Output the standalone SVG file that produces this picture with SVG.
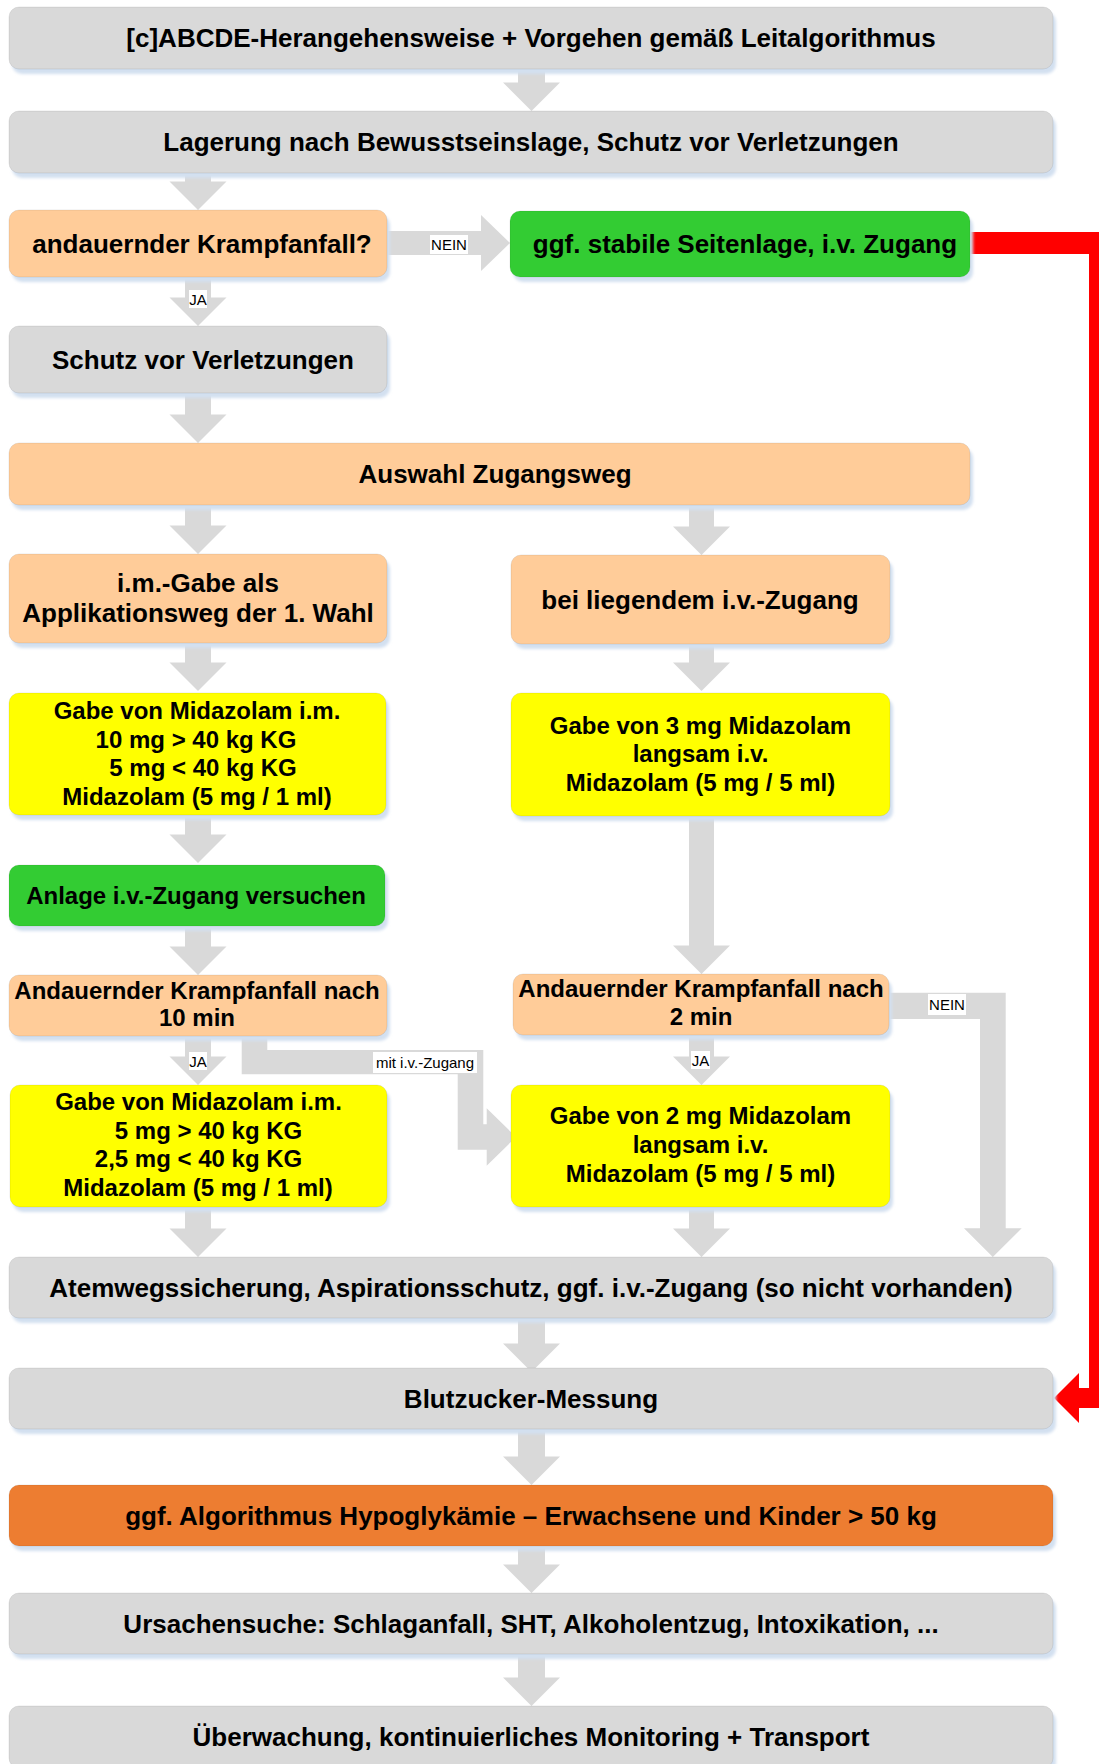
<svg xmlns="http://www.w3.org/2000/svg" width="1099" height="1764" viewBox="0 0 1099 1764">
  <style>
    .g { fill: #D9D9D9; }
    .p { fill: #FFCC99; }
    .gr { fill: #33CC33; }
    .y { fill: #FFFF00; }
    .o { fill: #ED7D31; }
    .box { stroke: #000; stroke-opacity: 0.08; stroke-width: 1; }
    .sh { fill: #D3E0F0; filter: url(#soft); }
    .arr { fill: #D9D9D9; }
    .red { fill: #FF0000; }
    text { font-family: "Liberation Sans", Arial, sans-serif; fill: #000; text-anchor: middle; }
    .t { font-weight: bold; font-size: 26px; }
    .s { font-weight: bold; font-size: 24px; }
    .lbl { font-size: 15px; }
    .lblbg { fill: #FFFFFF; }
  </style>
  <defs>
    <filter id="soft" x="-5%" y="-20%" width="110%" height="140%">
      <feGaussianBlur stdDeviation="1.5"/>
    </filter>
    <!-- shared down-pointing block arrow head, tip at (0,0) -->
    <polygon id="head" points="-28.5,-28.5 28.5,-28.5 0,0"/>
  </defs>

  <rect width="1099" height="1764" fill="#FFFFFF"/>

  <!-- block arrows between nodes -->
  <g id="connectors">
    <!-- centre column -->
    <rect class="arr" x="518" y="60" width="27" height="24"/>
    <use href="#head" class="arr" x="531.5" y="111"/>
    <rect class="arr" x="518" y="1310" width="27" height="40"/>
    <use href="#head" class="arr" x="531.5" y="1372"/>
    <rect class="arr" x="518" y="1420" width="27" height="40"/>
    <use href="#head" class="arr" x="531.5" y="1485"/>
    <rect class="arr" x="518" y="1540" width="27" height="30"/>
    <use href="#head" class="arr" x="531.5" y="1593"/>
    <rect class="arr" x="518" y="1650" width="27" height="30"/>
    <use href="#head" class="arr" x="531.5" y="1706"/>

    <!-- left column -->
    <rect class="arr" x="185" y="165" width="26" height="20"/>
    <use href="#head" class="arr" x="198" y="210"/>
    <rect class="arr" x="185" y="270" width="26" height="30"/>
    <use href="#head" class="arr" x="198" y="326"/>
    <rect class="arr" x="185" y="385" width="26" height="33"/>
    <use href="#head" class="arr" x="198" y="443"/>
    <rect class="arr" x="185" y="500" width="26" height="28"/>
    <use href="#head" class="arr" x="198" y="554"/>
    <rect class="arr" x="185" y="640" width="26" height="24"/>
    <use href="#head" class="arr" x="198" y="691"/>
    <rect class="arr" x="185" y="810" width="26" height="26"/>
    <use href="#head" class="arr" x="198" y="863"/>
    <rect class="arr" x="185" y="920" width="26" height="30"/>
    <use href="#head" class="arr" x="198" y="975"/>
    <rect class="arr" x="185" y="1030" width="26" height="30"/>
    <use href="#head" class="arr" x="198" y="1085"/>
    <rect class="arr" x="185" y="1200" width="26" height="32"/>
    <use href="#head" class="arr" x="198" y="1257"/>

    <!-- right column -->
    <rect class="arr" x="689" y="500" width="25" height="28"/>
    <use href="#head" class="arr" x="701.5" y="555"/>
    <rect class="arr" x="689" y="640" width="25" height="24"/>
    <use href="#head" class="arr" x="701.5" y="691"/>
    <rect class="arr" x="689" y="810" width="25" height="140"/>
    <use href="#head" class="arr" x="701.5" y="974"/>
    <rect class="arr" x="689" y="1030" width="25" height="30"/>
    <use href="#head" class="arr" x="701.5" y="1085"/>
    <rect class="arr" x="689" y="1200" width="25" height="32"/>
    <use href="#head" class="arr" x="701.5" y="1257"/>

    <!-- NEIN: to stable side position -->
    <polygon class="arr" points="380,231 481,231 481,215 510,243 481,271 481,255 380,255"/>
    <!-- mit i.v.-Zugang: left branch over to the i.v. dose -->
    <polygon class="arr" points="241.7,1030 267.3,1030 267.3,1050 483.3,1050 483.3,1124.3 486.7,1124.3 486.7,1108.3 516,1137 486.7,1165.7 486.7,1149.7 457.7,1149.7 457.7,1074.3 241.7,1074.3"/>
    <!-- NEIN: seizure ended after 2 min -->
    <polygon class="arr" points="880,992.7 1005.7,992.7 1005.7,1228.3 1021.7,1228.3 992.8,1257 964,1228.3 980,1228.3 980,1019 880,1019"/>

    <!-- red bypass to blood sugar measurement -->
    <polygon class="red" points="970,232 1112,232 1112,1408 1079,1408 1079,1423 1054,1398 1079,1373 1079,1388 1089,1388 1089,254 970,254"/>

    <!-- connector labels -->
    <rect class="lblbg" x="430" y="235" width="38" height="19"/>
    <text class="lbl" x="449" y="250">NEIN</text>
    <rect class="lblbg" x="189" y="290" width="18" height="18"/>
    <text class="lbl" x="198" y="304.5">JA</text>
    <rect class="lblbg" x="189" y="1052" width="18" height="18"/>
    <text class="lbl" x="198" y="1066.5">JA</text>
    <rect class="lblbg" x="373" y="1052" width="104" height="21"/>
    <text class="lbl" x="425" y="1068">mit i.v.-Zugang</text>
    <rect class="lblbg" x="691" y="1051" width="19" height="18"/>
    <text class="lbl" x="700.5" y="1065.5">JA</text>
    <rect class="lblbg" x="928" y="994" width="38" height="21"/>
    <text class="lbl" x="947" y="1009.5">NEIN</text>
  </g>

  <g id="n-abcde">
    <rect class="sh" x="12" y="12" width="1044" height="62" rx="10"/>
    <rect class="box g" x="9" y="7" width="1044" height="62" rx="10"/>
    <text class="t" x="531" y="47">[c]ABCDE-Herangehensweise + Vorgehen gemäß Leitalgorithmus</text>
  </g>

  <g id="n-lagerung">
    <rect class="sh" x="12" y="116" width="1044" height="62" rx="10"/>
    <rect class="box g" x="9" y="111" width="1044" height="62" rx="10"/>
    <text class="t" x="531" y="151">Lagerung nach Bewusstseinslage, Schutz vor Verletzungen</text>
  </g>

  <g id="n-krampf">
    <rect class="sh" x="12" y="215" width="378" height="67" rx="10"/>
    <rect class="box p" x="9" y="210" width="378" height="67" rx="10"/>
    <text class="t" x="202" y="252.5">andauernder Krampfanfall?</text>
  </g>

  <g id="n-seitenlage">
    <rect class="sh" x="513" y="216" width="460" height="66" rx="10"/>
    <rect class="box gr" x="510" y="211" width="460" height="66" rx="10"/>
    <text class="t" x="745" y="253">ggf. stabile Seitenlage, i.v. Zugang</text>
  </g>

  <g id="n-schutz">
    <rect class="sh" x="12" y="331" width="378" height="67" rx="10"/>
    <rect class="box g" x="9" y="326" width="378" height="67" rx="10"/>
    <text class="t" x="203" y="368.5">Schutz vor Verletzungen</text>
  </g>

  <g id="n-auswahl">
    <rect class="sh" x="12" y="448" width="961" height="62" rx="10"/>
    <rect class="box p" x="9" y="443" width="961" height="62" rx="10"/>
    <text class="t" x="495" y="483">Auswahl Zugangsweg</text>
  </g>

  <g id="n-im">
    <rect class="sh" x="12" y="559" width="378" height="89" rx="10"/>
    <rect class="box p" x="9" y="554" width="378" height="89" rx="10"/>
    <text class="t" x="198" y="591.5">i.m.-Gabe als</text>
    <text class="t" x="198" y="622">Applikationsweg der 1. Wahl</text>
  </g>

  <g id="n-iv">
    <rect class="sh" x="514" y="560" width="379" height="89" rx="10"/>
    <rect class="box p" x="511" y="555" width="379" height="89" rx="10"/>
    <text class="t" x="700" y="608.5">bei liegendem i.v.-Zugang</text>
  </g>

  <g id="n-im-dose1">
    <rect class="sh" x="12" y="698" width="377" height="122" rx="10"/>
    <rect class="box y" x="9" y="693" width="377" height="122" rx="10"/>
    <text class="s" x="197" y="719">Gabe von Midazolam i.m.</text>
    <text class="s" x="196" y="747.5">10 mg &gt; 40 kg KG</text>
    <text class="s" x="203" y="776">5 mg &lt; 40 kg KG</text>
    <text class="s" x="197" y="804.5">Midazolam (5 mg / 1 ml)</text>
  </g>

  <g id="n-iv-dose1">
    <rect class="sh" x="514" y="698" width="379" height="123" rx="10"/>
    <rect class="box y" x="511" y="693" width="379" height="123" rx="10"/>
    <text class="s" x="700.5" y="733.5">Gabe von 3 mg Midazolam</text>
    <text class="s" x="700.5" y="762">langsam i.v.</text>
    <text class="s" x="700.5" y="790.5">Midazolam (5 mg / 5 ml)</text>
  </g>

  <g id="n-anlage">
    <rect class="sh" x="12" y="870" width="376" height="61" rx="10"/>
    <rect class="box gr" x="9" y="865" width="376" height="61" rx="10"/>
    <text class="s" x="196" y="904">Anlage i.v.-Zugang versuchen</text>
  </g>

  <g id="n-10min">
    <rect class="sh" x="12" y="980" width="378" height="61" rx="10"/>
    <rect class="box p" x="9" y="975" width="378" height="61" rx="10"/>
    <text class="s" x="197" y="998.5">Andauernder Krampfanfall nach</text>
    <text class="s" x="197" y="1026">10 min</text>
  </g>

  <g id="n-2min">
    <rect class="sh" x="516" y="979" width="376" height="61" rx="10"/>
    <rect class="box p" x="513" y="974" width="376" height="61" rx="10"/>
    <text class="s" x="701" y="996.5">Andauernder Krampfanfall nach</text>
    <text class="s" x="701" y="1025">2 min</text>
  </g>

  <g id="n-im-dose2">
    <rect class="sh" x="13" y="1090" width="377" height="122" rx="10"/>
    <rect class="box y" x="10" y="1085" width="377" height="122" rx="10"/>
    <text class="s" x="198.5" y="1109.5">Gabe von Midazolam i.m.</text>
    <text class="s" x="208.5" y="1138.5">5 mg &gt; 40 kg KG</text>
    <text class="s" x="198.5" y="1167">2,5 mg &lt; 40 kg KG</text>
    <text class="s" x="198" y="1196">Midazolam (5 mg / 1 ml)</text>
  </g>

  <g id="n-iv-dose2">
    <rect class="sh" x="514" y="1090" width="379" height="122" rx="10"/>
    <rect class="box y" x="511" y="1085" width="379" height="122" rx="10"/>
    <text class="s" x="700.5" y="1124">Gabe von 2 mg Midazolam</text>
    <text class="s" x="700.5" y="1153">langsam i.v.</text>
    <text class="s" x="700.5" y="1182">Midazolam (5 mg / 5 ml)</text>
  </g>

  <g id="n-atemweg">
    <rect class="sh" x="12" y="1262" width="1044" height="61" rx="10"/>
    <rect class="box g" x="9" y="1257" width="1044" height="61" rx="10"/>
    <text class="t" x="531" y="1297">Atemwegssicherung, Aspirationsschutz, ggf. i.v.-Zugang (so nicht vorhanden)</text>
  </g>

  <g id="n-bz">
    <rect class="sh" x="12" y="1373" width="1044" height="61" rx="10"/>
    <rect class="box g" x="9" y="1368" width="1044" height="61" rx="10"/>
    <text class="t" x="531" y="1407.5">Blutzucker-Messung</text>
  </g>

  <g id="n-hypo">
    <rect class="sh" x="12" y="1490" width="1044" height="61" rx="10"/>
    <rect class="box o" x="9" y="1485" width="1044" height="61" rx="10"/>
    <text class="t" x="531" y="1524.5">ggf. Algorithmus Hypoglykämie – Erwachsene und Kinder &gt; 50 kg</text>
  </g>

  <g id="n-ursache">
    <rect class="sh" x="12" y="1598" width="1044" height="61" rx="10"/>
    <rect class="box g" x="9" y="1593" width="1044" height="61" rx="10"/>
    <text class="t" x="531" y="1632.5">Ursachensuche: Schlaganfall, SHT, Alkoholentzug, Intoxikation, ...</text>
  </g>

  <g id="n-transport">
    <rect class="sh" x="12" y="1711" width="1044" height="62" rx="10"/>
    <rect class="box g" x="9" y="1706" width="1044" height="62" rx="10"/>
    <text class="t" x="531" y="1746">Überwachung, kontinuierliches Monitoring + Transport</text>
  </g>
</svg>
